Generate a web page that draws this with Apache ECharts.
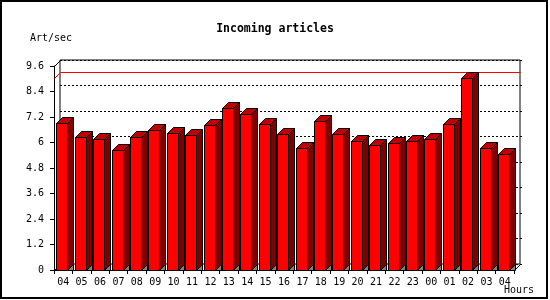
<!DOCTYPE html>
<html>
<head>
<meta charset="utf-8">
<script src="https://cdn.jsdelivr.net/npm/echarts@6/dist/echarts.min.js"></script>
<style>
html,body{margin:0;padding:0;background:#fff;}
#c{width:550px;height:300px;}
</style>
</head>
<body>
<div id="c"></div>
<script>
var categories = ['04','05','06','07','08','09','10','11','12','13','14','15','16','17','18','19','20','21','22','23','00','01','02','03','04'];
var values = [6.90,6.24,6.15,5.65,6.24,6.59,6.43,6.34,6.81,7.61,7.33,6.86,6.39,5.73,7.00,6.39,6.05,5.87,5.96,6.05,6.15,6.86,9.05,5.73,5.44];
var yMin = 0, yMax = 9.6, yInterval = 1.2;
var titleText = 'Incoming articles';
var yName = 'Art/sec';
var xName = 'Hours';

var FONT = '"DejaVu Sans Mono", "Liberation Mono", monospace';
var D = 6; // 3D depth in px
var maxVal = Math.max.apply(null, values);

var chart = echarts.init(document.getElementById('c'), null, {renderer: 'canvas'});

function r(v){ return Math.round(v) + 0.5; }

function renderBar(params, api) {
  var idx = api.value(0), val = api.value(1);
  var top = api.coord([idx, val]);
  var base = api.coord([idx, 0]);
  var w = api.size([1, 0])[0];
  var slotStart = top[0] - w / 2;
  var x0 = r(slotStart + 2.4), x1 = r(slotStart + 2.4 + w * 0.6);
  var yt = r(top[1]), yb = r(base[1]);
  var st = {stroke: '#000', lineWidth: 1};
  return {
    type: 'group',
    children: [
      {type: 'polygon', shape: {points: [[x1, yb], [x1 + D, yb - D], [x1 + D, yb]]}, style: Object.assign({fill: '#808080'}, st)},
      {type: 'polygon', shape: {points: [[x1, yt], [x1 + D, yt - D], [x1 + D, yb - D], [x1, yb]]}, style: Object.assign({fill: '#800000'}, st)},
      {type: 'polygon', shape: {points: [[x0, yt], [x0 + D, yt - D], [x1 + D, yt - D], [x1, yt]]}, style: Object.assign({fill: '#c00000'}, st)},
      {type: 'rect', shape: {x: x0, y: yt, width: x1 - x0, height: yb - yt}, style: Object.assign({fill: '#ff0000'}, st)}
    ]
  };
}

function renderFrame(params, api) {
  var cs = params.coordSys;
  var L = r(cs.x), T = r(cs.y), R = r(cs.x + cs.width), B = r(cs.y + cs.height);
  var my = r(api.coord([0, api.value(1)])[1]);
  var ls = {stroke: '#000', lineWidth: 1, fill: null};
  return {
    type: 'group',
    children: [
      {type: 'polyline', shape: {points: [[L, my], [L + D, my - D], [R + D, my - D]]}, style: {stroke: '#ff0000', lineWidth: 1, fill: null}},
      {type: 'line', shape: {x1: L, y1: T, x2: L + D, y2: T - D}, style: ls},
      {type: 'line', shape: {x1: L, y1: B, x2: L + D, y2: B - D}, style: ls},
      {type: 'line', shape: {x1: R, y1: B, x2: R + D, y2: B - D}, style: ls}
    ]
  };
}

var barData = values.map(function (v, i) { return [i, v]; });

chart.setOption({
  animation: false,
  backgroundColor: '#fff',
  title: {
    text: titleText, left: 'center', top: 18,
    textStyle: {fontFamily: FONT, fontSize: 11.5, fontWeight: 'bold', color: '#000'}
  },
  grid: [
    {left: 54, top: 66, width: 460, height: 204, show: false},
    {left: 60, top: 60, width: 460, height: 204, show: true, borderColor: '#000', borderWidth: 1, backgroundColor: 'transparent'}
  ],
  xAxis: [
    {
      type: 'category', gridIndex: 0, data: categories, boundaryGap: true,
      axisLine: {show: true, lineStyle: {color: '#000', width: 1}},
      axisTick: {show: true, length: 4, lineStyle: {color: '#000'}},
      axisLabel: {color: '#000', fontFamily: FONT, fontSize: 10, margin: 7, interval: 0},
      splitLine: {show: false}
    },
    {
      type: 'category', gridIndex: 1, data: categories, boundaryGap: true, show: false
    }
  ],
  yAxis: [
    {
      type: 'value', gridIndex: 0, min: yMin, max: yMax, interval: yInterval,
      axisLine: {show: true, lineStyle: {color: '#000', width: 1}},
      axisTick: {show: true, length: 4, lineStyle: {color: '#000'}},
      axisLabel: {color: '#000', fontFamily: FONT, fontSize: 10, margin: 10},
      splitLine: {show: false}
    },
    {
      type: 'value', gridIndex: 1, min: yMin, max: yMax, interval: yInterval, position: 'right',
      axisLine: {show: false},
      axisTick: {show: true, length: 2, lineStyle: {color: '#000'}},
      axisLabel: {show: false},
      splitLine: {show: true, lineStyle: {color: '#000', width: 1, type: [2, 2]}}
    }
  ],
  graphic: [
    {type: 'text', left: 30, top: 33, style: {text: yName, fontFamily: FONT, fontSize: 10, fill: '#000'}},
    {type: 'text', right: 550 - 534, top: 285, style: {text: xName, fontFamily: FONT, fontSize: 10, fill: '#000'}},
    {type: 'rect', shape: {x: 1, y: 1, width: 546, height: 297}, style: {fill: null, stroke: '#000', lineWidth: 2}, silent: true, z: 100}
  ],
  series: [
    {
      type: 'custom', xAxisIndex: 0, yAxisIndex: 0, z: 1,
      renderItem: renderFrame, data: [[0, maxVal]], encode: {x: 0, y: 1}, clip: false
    },
    {
      type: 'custom', xAxisIndex: 0, yAxisIndex: 0, z: 3,
      renderItem: renderBar, data: barData, encode: {x: 0, y: 1}, clip: false
    }
  ]
});
</script>
</body>
</html>
